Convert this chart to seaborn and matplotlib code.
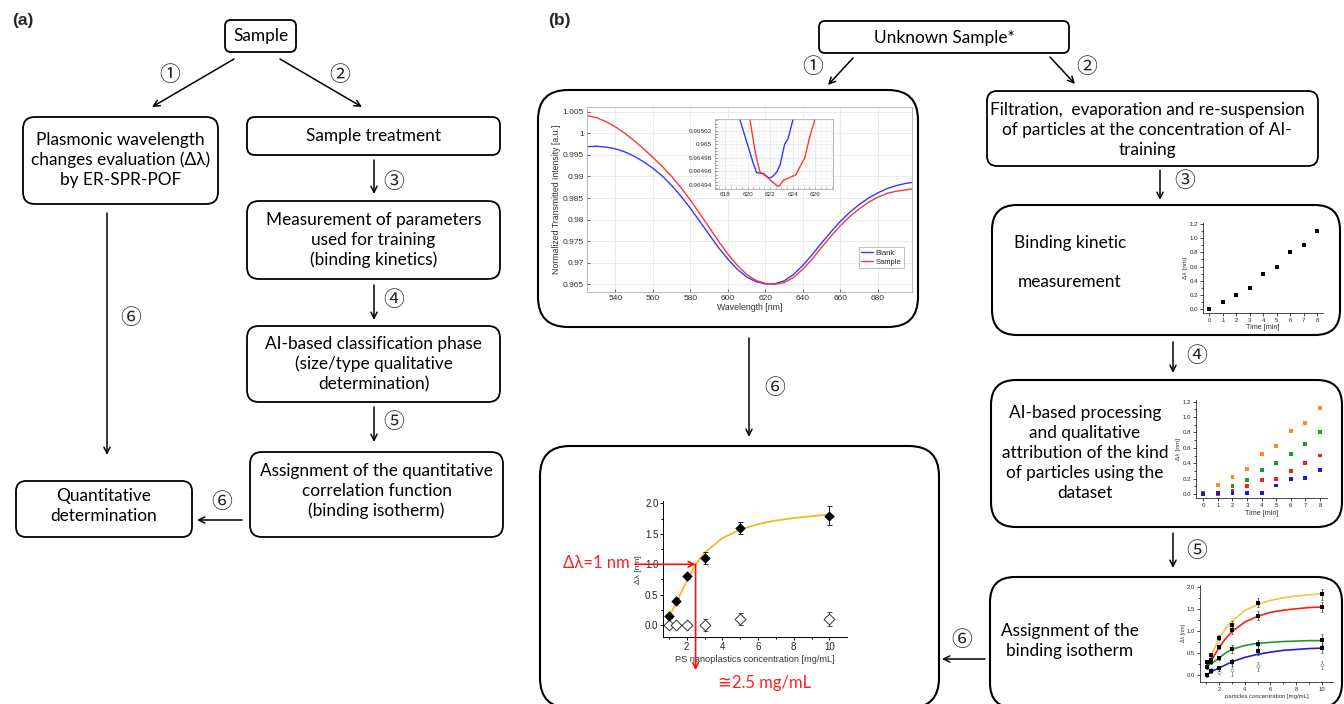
import numpy as np
import pandas as pd
import matplotlib
matplotlib.use("Agg")
import matplotlib.pyplot as plt
from matplotlib.patches import FancyBboxPatch
from matplotlib.ticker import MultipleLocator, FormatStrFormatter, FuncFormatter
import seaborn as sns

sns.set_style("white")
plt.rcParams["font.family"] = ["Lato", "DejaVu Sans"]

# ---------------- data ----------------
# SPR transmission spectra (ER-SPR-POF)
wavelength_nm = [525, 530, 535, 540, 545, 550, 555, 560, 565, 570, 575, 580, 585, 590,
                 595, 600, 605, 610, 615, 620, 625, 630, 635, 640, 645, 650, 655, 660,
                 665, 670, 675, 680, 685, 690, 695, 698]
blank_intensity = [0.9969, 0.9970, 0.9968, 0.9964, 0.9957, 0.9947, 0.9934, 0.9919, 0.9901,
                   0.9879, 0.9854, 0.9826, 0.9796, 0.9765, 0.9735, 0.9708, 0.9685, 0.9667,
                   0.9656, 0.9651, 0.9651, 0.9658, 0.9673, 0.9694, 0.9719, 0.9746, 0.9772,
                   0.9796, 0.9817, 0.9835, 0.9850, 0.9862, 0.9872, 0.9879, 0.9884, 0.9886]
sample_intensity = [1.0041, 1.0036, 1.0027, 1.0015, 1.0000, 0.9983, 0.9964, 0.9944, 0.9923,
                    0.9900, 0.9874, 0.9845, 0.9814, 0.9782, 0.9750, 0.9720, 0.9694, 0.9673,
                    0.9659, 0.9652, 0.9650, 0.9654, 0.9666, 0.9685, 0.9709, 0.9736, 0.9762,
                    0.9786, 0.9807, 0.9825, 0.9840, 0.9852, 0.9861, 0.9866, 0.9869, 0.9871]

# zoom around the resonance minimum
zoom_blank_wl = [619.0, 619.5, 620.0, 620.5, 620.8, 621.4, 621.9, 622.2, 622.6, 622.9,
                 623.3, 623.6, 624.1, 624.4]
zoom_blank = [0.965053, 0.965026, 0.964999, 0.964972, 0.964958, 0.964957, 0.964950,
              0.964952, 0.964959, 0.964970, 0.965000, 0.965008, 0.965040, 0.965060]
zoom_sample_wl = [620.0, 620.2, 620.7, 621.1, 621.7, 622.1, 622.6, 622.8, 623.2, 623.5,
                  624.3, 624.7, 625.1, 625.5, 626.0, 626.2]
zoom_sample = [0.965050, 0.965037, 0.964986, 0.964959, 0.964952, 0.964946, 0.964939,
               0.964938, 0.964947, 0.964949, 0.964955, 0.964968, 0.964980, 0.965009,
               0.965037, 0.965050]

# binding isotherm of PS nanoplastics
ps_conc = [1.0, 1.4, 2.0, 3.0, 5.0, 10.0]
ps_shift = [0.15, 0.40, 0.80, 1.10, 1.60, 1.80]
ps_err = [0.04, 0.04, 0.04, 0.10, 0.10, 0.15]
ctrl_shift = [0.0, 0.0, 0.0, 0.0, 0.10, 0.10]
ctrl_err = [0.0, 0.0, 0.0, 0.10, 0.10, 0.12]
ps_fit_conc = [1.0, 1.5, 2.0, 2.5, 3.0, 4.0, 5.0, 6.0, 7.0, 8.0, 9.0, 10.0]
ps_fit_shift = [0.13, 0.42, 0.72, 1.00, 1.19, 1.43, 1.57, 1.66, 1.72, 1.76, 1.79, 1.82]
read_shift = 1.0
read_conc = 2.5

# single binding kinetic
kinetic_time = [0, 1, 2, 3, 4, 5, 6, 7, 8]
kinetic_shift = [0.0, 0.1, 0.2, 0.3, 0.5, 0.6, 0.8, 0.9, 1.1]

# kinetics of the training classes
class_time = [0, 1, 2, 3, 4, 5, 6, 7, 8]
orange_kin = [0.01, 0.12, 0.22, 0.32, 0.52, 0.62, 0.82, 0.92, 1.12]
green_kin = [0.00, 0.00, 0.10, 0.18, 0.31, 0.40, 0.52, 0.65, 0.80]
red_kin = [0.01, 0.00, 0.04, 0.10, 0.18, 0.20, 0.30, 0.40, 0.50]
blue_kin = [0.00, 0.01, 0.01, 0.01, 0.01, 0.11, 0.20, 0.21, 0.31]

# binding isotherms of the training classes
iso_conc = [1.1, 1.4, 2.0, 3.0, 5.0, 10.0]
yellow_iso = [0.29, 0.45, 0.85, 1.14, 1.64, 1.83]
red_iso = [0.19, 0.34, 0.64, 1.02, 1.34, 1.54]
green_iso = [0.29, 0.30, 0.39, 0.59, 0.70, 0.80]
blue_iso = [0.00, 0.09, 0.15, 0.29, 0.55, 0.61]
iso_err = [0.05, 0.05, 0.05, 0.08, 0.10, 0.12]
blank_iso = [0.19, 0.10, 0.08, 0.11, 0.20, 0.23]
blank_iso_err = [0.05, 0.05, 0.06, 0.14, 0.10, 0.10]
fit_conc = [1.2, 1.5, 2.0, 2.5, 3.0, 4.0, 5.0, 6.0, 7.0, 8.0, 9.0, 10.0]
yellow_fit = [0.30, 0.52, 0.82, 1.05, 1.22, 1.46, 1.60, 1.69, 1.75, 1.79, 1.82, 1.84]
red_fit = [0.22, 0.38, 0.62, 0.82, 0.98, 1.20, 1.33, 1.42, 1.47, 1.50, 1.53, 1.54]
green_fit = [0.25, 0.28, 0.38, 0.50, 0.58, 0.67, 0.72, 0.74, 0.76, 0.77, 0.78, 0.78]
blue_fit_conc = [1.0, 1.5, 2.0, 2.5, 3.0, 4.0, 5.0, 6.0, 7.0, 8.0, 9.0, 10.0]
blue_fit = [0.00, 0.09, 0.16, 0.23, 0.30, 0.40, 0.47, 0.52, 0.56, 0.58, 0.60, 0.61]

# ---------------- figure / canvas ----------------
W, H = 1344, 704
fig = plt.figure(figsize=(W / 100, H / 100), dpi=100)
canvas = fig.add_axes([0, 0, 1, 1])
canvas.set_xlim(0, W)
canvas.set_ylim(H, 0)
canvas.axis("off")

BOX_FS = 12.4
CIRC = ["Noto Sans CJK JP", "DejaVu Sans"]
TXT = ["Lato", "DejaVu Sans"]
PLOT_FONT = ["Liberation Sans", "DejaVu Sans"]


def rbox(x0, y0, x1, y1, r, lw=1.3):
    canvas.add_patch(FancyBboxPatch((x0, y0), x1 - x0, y1 - y0,
                                    boxstyle=f"round,pad=0,rounding_size={r}",
                                    fc="white", ec="black", lw=lw, zorder=1))


def label(x, y, s, fs=BOX_FS, color="black", ls=1.3):
    canvas.text(x, y, s, fontsize=fs, ha="center", va="center", color=color,
                family=TXT, linespacing=ls, zorder=3)


def arrow(x0, y0, x1, y1, color="black", lw=1.1):
    canvas.annotate("", xy=(x1, y1), xytext=(x0, y0),
                    arrowprops=dict(arrowstyle="->", color=color, lw=lw,
                                    shrinkA=0, shrinkB=0, mutation_scale=11),
                    zorder=2)


def step(x, y, s):
    canvas.text(x, y, s, fontsize=15, ha="center", va="center", family=CIRC, zorder=3)


# ---------------- panel (a) ----------------
canvas.text(12, 21, "(a)", fontsize=12.5, fontweight="bold", family=PLOT_FONT,
            ha="left", va="center")
rbox(225, 20, 296, 52, 6)
label(260.5, 36, "Sample")
rbox(23, 117, 218, 204, 12)
label(120.5, 160, "Plasmonic wavelength\nchanges evaluation (Δλ)\nby ER-SPR-POF")
rbox(247, 117, 500, 155, 8)
label(373.5, 136, "Sample treatment")
rbox(247, 201, 500, 279, 12)
label(373.5, 240, "Measurement of parameters\nused for training\n(binding kinetics)")
rbox(247, 326, 500, 402, 12)
label(373.5, 364, "AI-based classification phase\n(size/type qualitative\ndetermination)")
rbox(250, 452, 503, 537, 12)
label(376.5, 491, "Assignment of the quantitative\ncorrelation function\n(binding isotherm)")
rbox(16, 481, 192, 537, 10)
label(104, 506, "Quantitative\ndetermination")

arrow(234, 59, 152, 107)
step(170, 75, "①")
arrow(280, 59, 362, 107)
step(340, 75, "②")
arrow(374, 160, 374, 194)
step(394, 182, "③")
arrow(374, 285, 374, 320)
step(394, 300, "④")
arrow(374, 407, 374, 442)
step(394, 422, "⑤")
arrow(107, 213, 107, 455)
step(131, 318, "⑥")
arrow(242, 520, 197, 520)
step(222, 502, "⑥")

# ---------------- panel (b) ----------------
canvas.text(548, 21, "(b)", fontsize=12.5, fontweight="bold", family=PLOT_FONT,
            ha="left", va="center")
rbox(819, 21, 1069, 53, 6)
label(944, 38, "Unknown Sample*")
arrow(853, 58, 828, 85)
step(813, 67, "①")
arrow(1050, 57, 1075, 84)
step(1087, 67, "②")

rbox(538, 90, 918, 327, 30, lw=1.5)
arrow(749, 338, 749, 437)
step(775, 388, "⑥")
rbox(540, 446, 939, 708, 30, lw=1.5)

rbox(987, 91, 1318, 166, 10)
label(1147, 130, "Filtration,  evaporation and re-suspension\nof particles at the concentration of AI-\ntraining")
arrow(1160, 170, 1160, 200)
step(1185, 181, "③")
rbox(992, 205, 1340, 335, 25, lw=1.5)
label(1070, 243, "Binding kinetic")
label(1070, 282, "measurement")
arrow(1173, 342, 1173, 373)
step(1197, 356, "④")
rbox(991, 380, 1342, 527, 25, lw=1.5)
label(1085, 453, "AI-based processing\nand qualitative\nattribution of the kind\nof particles using the\ndataset")
arrow(1173, 533, 1173, 568)
step(1197, 551, "⑤")
rbox(990, 577, 1342, 708, 25, lw=1.5)
label(1070, 641, "Assignment of the\nbinding isotherm")
arrow(985, 659, 942, 659)
step(962, 640, "⑥")


def panel_axes(left, top, right, bottom):
    return fig.add_axes([left / W, 1 - bottom / H, (right - left) / W, (bottom - top) / H])


def origin_style(ax, fs, lw=0.6):
    for side in ("top", "right"):
        ax.spines[side].set_visible(False)
    for side in ("left", "bottom"):
        ax.spines[side].set_color("black")
        ax.spines[side].set_linewidth(lw)
    ax.tick_params(which="major", direction="out", length=2.5, width=lw,
                   labelsize=fs, pad=1, left=True, bottom=True, color="black")
    ax.tick_params(which="minor", direction="out", length=1.5, width=lw,
                   left=True, bottom=True, color="black")
    for t in ax.get_xticklabels() + ax.get_yticklabels():
        t.set_family(PLOT_FONT)
    ax.set_facecolor("none")


# ---------------- SPR spectrum ----------------
ax_spec = panel_axes(586.7, 106.7, 911.7, 292.3)
sns.lineplot(x=wavelength_nm, y=blank_intensity, color="#3636ff", lw=1.0, ax=ax_spec,
             label="Blank")
sns.lineplot(x=wavelength_nm, y=sample_intensity, color="#ff3636", lw=1.0, ax=ax_spec,
             label="Sample")
ax_spec.set_xlim(524.7, 698)
ax_spec.set_ylim(0.96315, 1.00616)
ax_spec.xaxis.set_major_locator(MultipleLocator(20))
ax_spec.yaxis.set_major_locator(MultipleLocator(0.005))
ax_spec.yaxis.set_major_formatter(FuncFormatter(lambda v, p: f"{v:.4g}"))
ax_spec.grid(True, color="#e8e8e8", lw=0.6)
for s in ax_spec.spines.values():
    s.set_color("#b0b0b0")
    s.set_linewidth(0.6)
ax_spec.tick_params(direction="in", length=2, width=0.5, labelsize=6, pad=2,
                    colors="#303030", left=True, bottom=True)
for t in ax_spec.get_xticklabels() + ax_spec.get_yticklabels():
    t.set_family(PLOT_FONT)
ax_spec.set_xlabel("Wavelength [nm]", fontsize=6.3, family=PLOT_FONT, labelpad=1,
                   color="#303030")
ax_spec.set_ylabel("Normalized Transmitted Intensity [a.u.]", fontsize=6.3,
                   family=PLOT_FONT, labelpad=1, color="#303030")
leg = ax_spec.legend(loc="lower right", bbox_to_anchor=(0.975, 0.13), fontsize=5.5,
                     frameon=True, fancybox=False, edgecolor="#909090",
                     handlelength=1.6, borderpad=0.3, labelspacing=0.2,
                     handletextpad=0.3, borderaxespad=0)
leg.get_frame().set_linewidth(0.5)
for t in leg.get_texts():
    t.set_family(PLOT_FONT)

ax_in = panel_axes(715, 119, 833, 189)
sns.lineplot(x=zoom_blank_wl, y=zoom_blank, color="#3636ff", lw=1.0, ax=ax_in,
             sort=False, legend=False)
sns.lineplot(x=zoom_sample_wl, y=zoom_sample, color="#ff3636", lw=1.0, ax=ax_in,
             sort=False, legend=False)
ax_in.set_xlim(617.1, 627.6)
ax_in.set_ylim(0.964934, 0.965037)
ax_in.xaxis.set_major_locator(MultipleLocator(2))
ax_in.xaxis.set_minor_locator(MultipleLocator(0.5))
ax_in.yaxis.set_major_locator(MultipleLocator(0.00002))
ax_in.yaxis.set_minor_locator(MultipleLocator(0.000005))
ax_in.yaxis.set_major_formatter(FuncFormatter(lambda v, p: f"{v:.6g}"))
ax_in.grid(True, which="major", color="#e0e0e0", lw=0.5)
ax_in.grid(True, which="minor", color="#f2f2f2", lw=0.4)
ax_in.set_facecolor("white")
for s in ax_in.spines.values():
    s.set_color("#b0b0b0")
    s.set_linewidth(0.6)
ax_in.tick_params(which="both", direction="in", length=1.5, width=0.4, labelsize=4.6,
                  pad=2, colors="#303030", left=True, bottom=True)
for t in ax_in.get_xticklabels() + ax_in.get_yticklabels():
    t.set_family(PLOT_FONT)
ax_in.set_xlabel("")
ax_in.set_ylabel("")

label(774, 217, "Δλ=1 nm", fs=12, color="#ff2020")

# ---------------- PS nanoplastics isotherm ----------------
ax_ps = panel_axes(663.3, 501, 846.7, 637.3)
sns.lineplot(x=ps_fit_conc, y=ps_fit_shift, color="#f2b92b", lw=1.3, ax=ax_ps, zorder=2)
ax_ps.errorbar(ps_conc, ctrl_shift, yerr=ctrl_err, fmt="none", ecolor="#444444",
               elinewidth=0.7, capsize=1.8, capthick=0.7, zorder=3)
sns.scatterplot(x=ps_conc, y=ctrl_shift, marker="D", s=30, facecolor="white",
                edgecolor="#333333", linewidth=0.7, ax=ax_ps, zorder=4)
ax_ps.errorbar(ps_conc, ps_shift, yerr=ps_err, fmt="none", ecolor="#222222",
               elinewidth=0.7, capsize=1.8, capthick=0.7, zorder=3)
sns.scatterplot(x=ps_conc, y=ps_shift, marker="D", s=24, color="black",
                edgecolor="black", linewidth=0.4, ax=ax_ps, zorder=5)
ax_ps.set_xlim(0.69, 10.97)
ax_ps.set_ylim(-0.2, 2.04)
ax_ps.xaxis.set_major_locator(MultipleLocator(2))
ax_ps.xaxis.set_minor_locator(MultipleLocator(1))
ax_ps.yaxis.set_major_locator(MultipleLocator(0.5))
ax_ps.yaxis.set_minor_locator(MultipleLocator(0.25))
ax_ps.yaxis.set_major_formatter(FormatStrFormatter("%.1f"))
origin_style(ax_ps, 7, lw=0.7)
ax_ps.set_xlabel("PS nanoplastics concentration [mg/mL]", fontsize=6.6,
                 family=PLOT_FONT, labelpad=2, color="#333333")
ax_ps.set_ylabel("Δλ [nm]", fontsize=6, family=PLOT_FONT, labelpad=2, color="#333333")
ax_ps.annotate("", xy=(read_conc, read_shift), xytext=(-0.9, read_shift),
               arrowprops=dict(arrowstyle="->", color="#ff1010", lw=1.2,
                               shrinkA=0, shrinkB=0, mutation_scale=10),
               annotation_clip=False, zorder=6)
ax_ps.annotate("", xy=(read_conc, -0.74), xytext=(read_conc, read_shift),
               arrowprops=dict(arrowstyle="->", color="#ff1010", lw=1.2,
                               shrinkA=0, shrinkB=0, mutation_scale=10),
               annotation_clip=False, zorder=6)
label(596, 563, f"Δλ={read_shift:g} nm", fs=12, color="#ff2020")
label(765, 683, f"≅{read_conc:g} mg/mL", fs=12, color="#ff2020")

# ---------------- binding kinetic ----------------
ax_k = panel_axes(1203, 223, 1323, 312.7)
sns.scatterplot(x=kinetic_time, y=kinetic_shift, marker="s", s=8, color="black",
                linewidth=0, ax=ax_k)
ax_k.set_xlim(-0.47, 8.44)
ax_k.set_ylim(-0.05, 1.214)
ax_k.xaxis.set_major_locator(MultipleLocator(1))
ax_k.yaxis.set_major_locator(MultipleLocator(0.2))
ax_k.yaxis.set_minor_locator(MultipleLocator(0.1))
ax_k.yaxis.set_major_formatter(FormatStrFormatter("%.1f"))
origin_style(ax_k, 4.4, lw=0.5)
ax_k.set_xlabel("Time [min]", fontsize=5.2, family=PLOT_FONT, labelpad=1, color="#333333")
ax_k.set_ylabel("Δλ [nm]", fontsize=4.6, family=PLOT_FONT, labelpad=1, color="#333333")

# ---------------- classes kinetics ----------------
kin_df = pd.DataFrame({
    "time": class_time * 4,
    "shift": orange_kin + green_kin + red_kin + blue_kin,
    "cls": ["orange"] * 9 + ["green"] * 9 + ["red"] * 9 + ["blue"] * 9,
})
ax_c = panel_axes(1196, 400, 1327, 498.3)
sns.scatterplot(data=kin_df, x="time", y="shift", hue="cls", marker="s", s=8,
                linewidth=0, legend=False, ax=ax_c,
                palette={"orange": "#ff8c1a", "green": "#1f9a2a",
                         "red": "#ff1a1a", "blue": "#1a1ad0"})
ax_c.set_xlim(-0.5, 8.48)
ax_c.set_ylim(-0.056, 1.222)
ax_c.xaxis.set_major_locator(MultipleLocator(1))
ax_c.yaxis.set_major_locator(MultipleLocator(0.2))
ax_c.yaxis.set_minor_locator(MultipleLocator(0.1))
ax_c.yaxis.set_major_formatter(FormatStrFormatter("%.1f"))
origin_style(ax_c, 4.4, lw=0.5)
ax_c.set_xlabel("Time [min]", fontsize=5.2, family=PLOT_FONT, labelpad=1, color="#333333")
ax_c.set_ylabel("Δλ [nm]", fontsize=4.6, family=PLOT_FONT, labelpad=1, color="#333333")

# ---------------- classes isotherms ----------------
ax_i = panel_axes(1200, 585, 1333, 681.7)
curves = [(fit_conc, yellow_fit, "#f5c542"), (fit_conc, red_fit, "#ff1a1a"),
          (fit_conc, green_fit, "#1f9a2a"), (blue_fit_conc, blue_fit, "#2020c8")]
for xs, ys, col in curves:
    sns.lineplot(x=xs, y=ys, color=col, lw=1.2, ax=ax_i, zorder=2)
ax_i.errorbar(iso_conc, blank_iso, yerr=blank_iso_err, fmt="none", ecolor="#777777",
              elinewidth=0.5, capsize=1, capthick=0.5, zorder=3)
sns.scatterplot(x=iso_conc, y=blank_iso, marker="o", s=5, facecolor="white",
                edgecolor="#777777", linewidth=0.4, ax=ax_i, zorder=3)
for ys in (yellow_iso, red_iso, green_iso, blue_iso):
    ax_i.errorbar(iso_conc, ys, yerr=iso_err, fmt="none", ecolor="#333333",
                  elinewidth=0.5, capsize=1, capthick=0.5, zorder=3)
    sns.scatterplot(x=iso_conc, y=ys, marker="s", s=6, color="black", linewidth=0,
                    ax=ax_i, zorder=4)
ax_i.set_xlim(0.52, 10.88)
ax_i.set_ylim(-0.15, 2.04)
ax_i.xaxis.set_major_locator(MultipleLocator(2))
ax_i.xaxis.set_minor_locator(MultipleLocator(1))
ax_i.yaxis.set_major_locator(MultipleLocator(0.5))
ax_i.yaxis.set_minor_locator(MultipleLocator(0.25))
ax_i.yaxis.set_major_formatter(FormatStrFormatter("%.1f"))
origin_style(ax_i, 4.2, lw=0.5)
ax_i.set_xlabel("particles concentration [mg/mL]", fontsize=4.3, family=PLOT_FONT,
                labelpad=2, color="#333333")
ax_i.set_ylabel("Δλ [nm]", fontsize=3.8, family=PLOT_FONT, labelpad=1, color="#333333")

fig.savefig("out.png", dpi=100)
